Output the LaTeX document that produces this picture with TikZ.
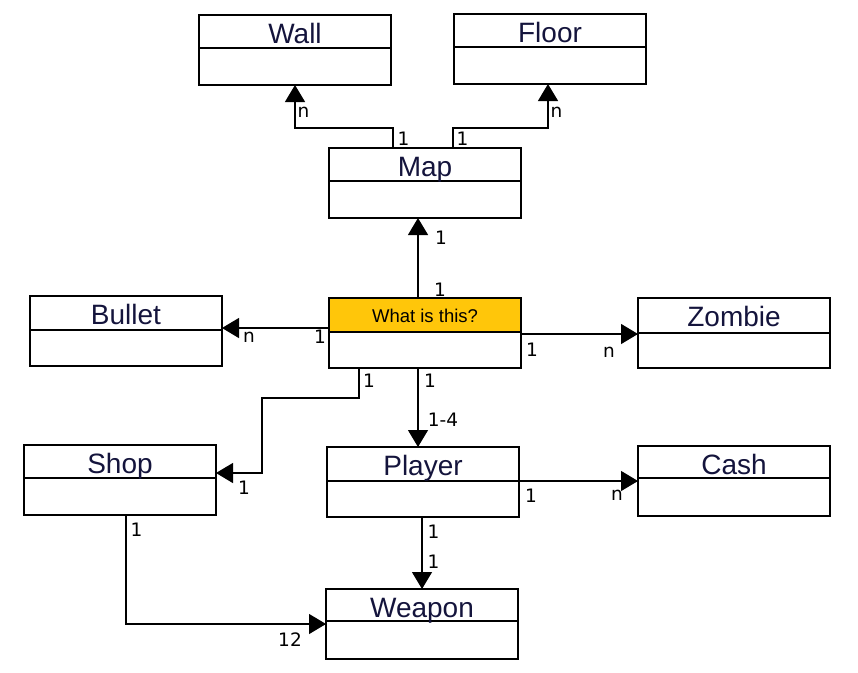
\documentclass[tikz,border=0pt]{standalone}
\usepackage{fontspec}
\setmainfont{Liberation Sans}
\newfontfamily\labfont{DejaVu Sans}
\usetikzlibrary{arrows.meta}
\definecolor{titlecol}{RGB}{20,20,60}
\definecolor{hilite}{RGB}{255,198,10}
\newcommand\umlclass[5]{%
  \node[classbox] (#1) at (#2,#3) {};
  \draw[boxline] ([yshift=-#5pt]#1.north west) -- ([yshift=-#5pt]#1.north east);
  \node[titletext] (#1-t) at ([yshift=-28pt]#1.north) {#4};
}
\begin{document}
\begin{tikzpicture}[x=1pt,y=-1pt,
  classbox/.style={draw, line width=1.2pt, minimum width=192pt, minimum height=70pt, inner sep=0pt, outer sep=0pt, anchor=north west},
  boxline/.style={line width=1.2pt},
  titletext/.style={font=\fontsize{28}{30}\selectfont, text=titlecol, anchor=base, inner sep=0pt},
  mult/.style={font=\labfont\fontsize{18.5}{19}\selectfont, inner sep=0pt},
  assoc/.style={line width=1.2pt, -{Triangle[width=20pt,length=17pt]}}
]
\useasboundingbox (0,0) rectangle (858,672);

% highlighted compartment
\fill[hilite] (329,298) rectangle (521,332);

\umlclass{wall}{199}{15}{Wall}{33}
\umlclass{floor}{454}{14}{Floor}{33}
\umlclass{map}{329}{148}{Map}{33}
\umlclass{bullet}{30}{296}{Bullet}{34}
\node[classbox] (center) at (329,298) {};
\draw[boxline] ([yshift=-34pt]center.north west) -- ([yshift=-34pt]center.north east);
\node[font=\fontsize{18.5}{20}\selectfont, anchor=base, inner sep=0pt] (center-t) at ([yshift=-24pt]center.north) {What is this?};
\umlclass{zombie}{638}{298}{Zombie}{35}
\umlclass{shop}{24}{445}{Shop}{33}
\umlclass{player}{327}{447}{Player}{34}
\umlclass{cash}{638}{446}{Cash}{32}
\umlclass{weapon}{326}{589}{Weapon}{32}

% helper coordinates
\coordinate (wx) at (295,128);
\coordinate (mx) at (393,0);
\coordinate (fx) at (548,128);
\coordinate (mx2) at (453,0);
\coordinate (cm) at (418,0);
\coordinate (cb) at (0,328);
\coordinate (cz) at (0,334);
\coordinate (cs) at (359,0);
\coordinate (sk) at (262,398);
\coordinate (sy) at (0,473);
\coordinate (pc) at (0,481);
\coordinate (pw) at (422,0);
\coordinate (sw) at (126,0);
\coordinate (wy) at (0,624);

% connectors
\draw[assoc] (map.north -| mx) |- (wx) -- (wall.south -| wx);
\draw[assoc] (map.north -| mx2) |- (fx) -- (floor.south -| fx);
\draw[assoc] (center.north -| cm) -- (map.south -| cm);
\draw[assoc] (center.west |- cb) -- (bullet.east |- cb);
\draw[assoc] (center.east |- cz) -- (zombie.west |- cz);
\draw[assoc] (center.south -| cs) |- (sk) |- (shop.east |- sy);
\draw[assoc] (center.south -| cm) -- (player.north -| cm);
\draw[assoc] (player.east |- pc) -- (cash.west |- pc);
\draw[assoc] (player.south -| pw) -- (weapon.north -| pw);
\draw[assoc] (shop.south -| sw) |- (weapon.west |- wy);

% multiplicities
\node[mult] (m1) at (303.5,112) {n};
\node[mult] (m2) at (403.5,138.5) {1};
\node[mult] (m3) at (462.5,138.5) {1};
\node[mult] (m4) at (556.5,112) {n};
\node[mult] (m5) at (441,238) {1};
\node[mult] (m6) at (440,289.5) {1};
\node[mult] (m7) at (249,337) {n};
\node[mult] (m8) at (320,337) {1};
\node[mult] (m9) at (532,350) {1};
\node[mult] (m10) at (609,352) {n};
\node[mult] (m11) at (369,380.5) {1};
\node[mult] (m12) at (430,380.5) {1};
\node[mult] (m13) at (443,420) {1-4};
\node[mult] (m14) at (244,488) {1};
\node[mult] (m15) at (531,496) {1};
\node[mult] (m16) at (617,495) {n};
\node[mult] (m17) at (136.5,530) {1};
\node[mult] (m18) at (433.5,532) {1};
\node[mult] (m19) at (433.5,562) {1};
\node[mult] (m20) at (290,640) {12};
\end{tikzpicture}
\end{document}
